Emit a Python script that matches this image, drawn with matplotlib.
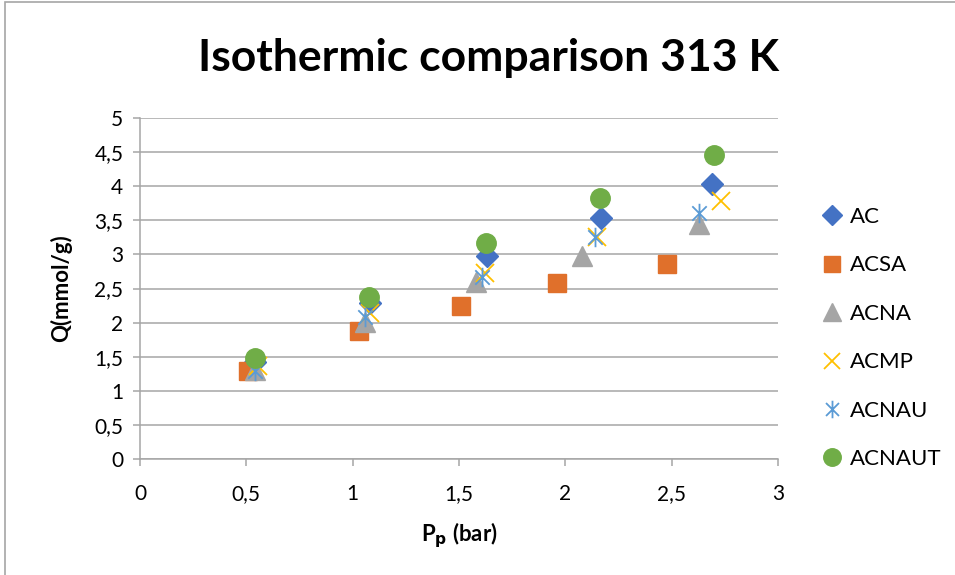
import matplotlib
matplotlib.use("Agg")
import matplotlib.pyplot as plt
from matplotlib.patches import Rectangle
from matplotlib.path import Path
from matplotlib.ticker import FuncFormatter

plt.rcParams['font.family'] = ['Lato', 'DejaVu Sans']

# Adsorption isotherm data at 313 K: partial pressure (bar) vs uptake (mmol/g)
series_names = ["AC", "ACSA", "ACNA", "ACMP", "ACNAU", "ACNAUT"]

p_ac = [0.54, 1.08, 1.63, 2.17, 2.69]
q_ac = [1.42, 2.29, 2.97, 3.54, 4.03]

p_acsa = [0.51, 1.03, 1.51, 1.96, 2.48]
q_acsa = [1.29, 1.88, 2.24, 2.58, 2.86]

p_acna = [0.54, 1.06, 1.58, 2.08, 2.63]
q_acna = [1.30, 2.01, 2.59, 2.97, 3.45]

p_acmp = [0.555, 1.08, 1.62, 2.15, 2.73]
q_acmp = [1.36, 2.14, 2.72, 3.26, 3.78]

p_acnau = [0.54, 1.06, 1.61, 2.14, 2.63]
q_acnau = [1.29, 2.08, 2.67, 3.26, 3.60]

p_acnaut = [0.54, 1.077, 1.627, 2.165, 2.70]
q_acnaut = [1.48, 2.38, 3.17, 3.83, 4.46]

x_ticks = [0, 0.5, 1, 1.5, 2, 2.5, 3]
y_ticks = [0, 0.5, 1, 1.5, 2, 2.5, 3, 3.5, 4, 4.5, 5]

# "X plus vertical bar" star marker
star = Path([(-1, -1), (1, 1), (-1, 1), (1, -1), (0, -1.35), (0, 1.35)],
            [Path.MOVETO, Path.LINETO, Path.MOVETO, Path.LINETO, Path.MOVETO, Path.LINETO])

fig = plt.figure(figsize=(9.55, 5.75), dpi=100)
fig.patches.append(Rectangle((5 / 955, -0.05), 1.2, 1 - 2 / 575 + 0.05,
                             transform=fig.transFigure, fill=False,
                             edgecolor="#A6A6A6", linewidth=1.2, zorder=0))

ax = fig.add_axes([140 / 955, 116 / 575, 638 / 955, 341 / 575])

styles = [
    dict(marker="D", color="#4472C4", ms=11, ls="none"),
    dict(marker="s", color="#E0702B", ms=13, ls="none"),
    dict(marker="^", color="#A5A5A5", ms=14, ls="none"),
    dict(marker="x", color="#FFC000", ms=13, ls="none", mew=1.3),
    dict(marker=star, color="#5B9BD5", ms=14, ls="none", mew=1.3),
    dict(marker="o", color="#70AD47", ms=14, ls="none"),
]
data = [(p_ac, q_ac), (p_acsa, q_acsa), (p_acna, q_acna),
        (p_acmp, q_acmp), (p_acnau, q_acnau), (p_acnaut, q_acnaut)]

handles = []
for name, (px, qy), st in zip(series_names, data, styles):
    h, = ax.plot(px, qy, label=name, zorder=3, **st)
    handles.append(h)

ax.set_xlim(0, 3)
ax.set_ylim(0, 5)
ax.set_xticks(x_ticks)
ax.set_yticks(y_ticks)
comma = FuncFormatter(lambda v, pos: ("%g" % v).replace(".", ","))
ax.xaxis.set_major_formatter(comma)
ax.yaxis.set_major_formatter(comma)

ax.grid(axis="y", color="#A6A6A6", linewidth=1.1, zorder=0)
ax.set_axisbelow(True)
for s in ["top", "right"]:
    ax.spines[s].set_visible(False)
for s in ["left", "bottom"]:
    ax.spines[s].set_color("#A6A6A6")
    ax.spines[s].set_linewidth(1.1)
ax.tick_params(axis="both", colors="#A6A6A6", labelcolor="black",
               labelsize=15, length=5, width=1.1)
ax.tick_params(axis="y", pad=7)
ax.tick_params(axis="x", pad=13)

ax.set_xlabel("P$_\\mathbf{p}$ (bar)", fontsize=16, fontweight="bold", labelpad=12)
ax.set_ylabel("Q(mmol/g)", fontsize=16, fontweight="bold", labelpad=16)

fig.text(0.512, 0.9, "Isothermic comparison 313 K", fontsize=32,
         fontweight="bold", ha="center", va="center")

fig.legend(handles=handles, loc="upper left", bbox_to_anchor=(801 / 955, 1 - 187 / 575),
           frameon=False, fontsize=16, labelspacing=1.28, handlelength=1.0,
           handletextpad=0.3, markerscale=0.9)

fig.savefig("out.png", dpi=100)
